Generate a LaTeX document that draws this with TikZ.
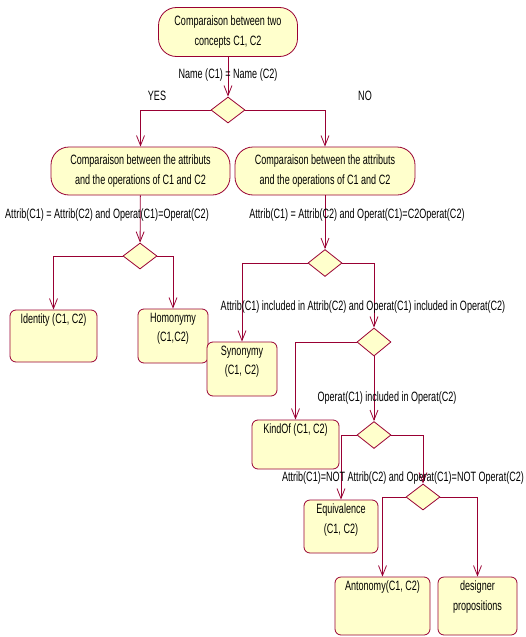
\documentclass[tikz,border=0pt]{standalone}
\usepackage{fontspec}
\setmainfont{Liberation Sans}[FakeStretch=0.67]
\usetikzlibrary{shapes.geometric,arrows.meta}
\definecolor{frame}{RGB}{153,0,51}
\definecolor{pale}{RGB}{255,255,204}
\begin{document}
\begin{tikzpicture}[x=1pt,y=-1pt,
  every node/.style={font=\fontsize{13.5}{19.5}\selectfont},
  stadium/.style={draw=frame,fill=pale,line width=0.8pt,rounded corners=18pt,align=center,inner sep=0pt},
  actbox/.style={draw=frame,fill=pale,line width=0.8pt,rounded corners=6pt,inner sep=0pt},
  lbl/.style={anchor=north,yshift=-4pt,align=center,inner sep=0pt,font=\fontsize{13.5}{19.5}\selectfont},
  choice/.style={diamond,draw=frame,fill=pale,line width=0.8pt,inner sep=0pt,minimum width=34pt,minimum height=26pt},
  flow/.style={draw=frame,line width=0.8pt,-{Straight Barb[length=10pt,width=8pt]}},
  cond/.style={inner sep=0pt}]
\useasboundingbox (0,0) rectangle (525,637);

% nodes
\node[stadium,minimum width=139pt,minimum height=49pt] (start) at (228,32) {Comparaison between two\\concepts C1, C2};
\node[choice] (d1) at (228,110) {};
\node[stadium,minimum width=179pt,minimum height=48pt] (left) at (140.5,171) {Comparaison between the attributs\\and the operations of C1 and C2};
\node[stadium,minimum width=180pt,minimum height=48pt] (right) at (325,171) {Comparaison between the attributs\\and the operations of C1 and C2};
\node[choice] (d2) at (140,256) {};
\node[choice,minimum height=27pt] (d3) at (325,263) {};
\node[actbox,minimum width=87pt,minimum height=52pt,label={[lbl]north:Identity (C1, C2)}] (ident) at (53.5,336) {};
\node[actbox,minimum width=70pt,minimum height=54pt,label={[lbl]north:Homonymy\\(C1,C2)}] (homo) at (173,336) {};
\node[actbox,minimum width=70pt,minimum height=54pt,label={[lbl]north:Synonymy\\(C1, C2)}] (syno) at (242,369) {};
\node[choice,minimum height=28pt] (d4) at (374,342) {};
\node[actbox,minimum width=87pt,minimum height=49pt,label={[lbl]north:KindOf (C1, C2)}] (kind) at (295.5,444.5) {};
\node[choice,minimum height=27pt] (d5) at (374,435) {};
\node[actbox,minimum width=74pt,minimum height=53pt,label={[lbl]north:Equivalence\\(C1, C2)}] (equi) at (341,526.5) {};
\node[choice] (d6) at (423,497) {};
\node[actbox,minimum width=95pt,minimum height=58pt,label={[lbl]north:Antonomy(C1, C2)}] (anto) at (382.5,606) {};
\node[actbox,minimum width=79pt,minimum height=58pt,label={[lbl]north:designer\\propositions}] (desig) at (477.5,606) {};

% connectors
\draw[flow] (start) -- (d1);
\draw[flow] (d1.west) -| (left.north);
\draw[flow] (d1.east) -| (right.north);
\draw[flow] (left) -- (d2);
\draw[flow] (right) -- (d3);
\draw[flow] (d2.west) -| (ident.north);
\draw[flow] (d2.east) -| (homo.north);
\draw[flow] (d3.west) -| (syno.north);
\draw[flow] (d3.east) -| (d4.north);
\draw[flow] (d4.west) -| (kind.north);
\draw[flow] (d4) -- (d5);
\draw[flow] (d5.west) -| (equi.north);
\draw[flow] (d5.east) -| (d6.north);
\draw[flow] (d6.west) -| (anto.north);
\draw[flow] (d6.east) -| (desig.north);

% condition labels
\node[cond] (c1) at (228,75) {Name (C1) = Name (C2)};
\node[cond] (yes) at (157,96) {YES};
\node[cond] (no) at (365,96) {NO};
\node[cond] (c2) at (107,215) {Attrib(C1) = Attrib(C2) and Operat(C1)=Operat(C2)};
\node[cond] (c3) at (357,215) {Attrib(C1) = Attrib(C2) and Operat(C1)=C2Operat(C2)};
\node[cond] (c4) at (363,307) {Attrib(C1) included in Attrib(C2) and Operat(C1) included in Operat(C2)};
\node[cond] (c5) at (387,398) {Operat(C1) included in Operat(C2)};
\node[cond] (c6) at (403,478) {Attrib(C1)=NOT Attrib(C2) and Operat(C1)=NOT Operat(C2)};
\end{tikzpicture}
\end{document}
